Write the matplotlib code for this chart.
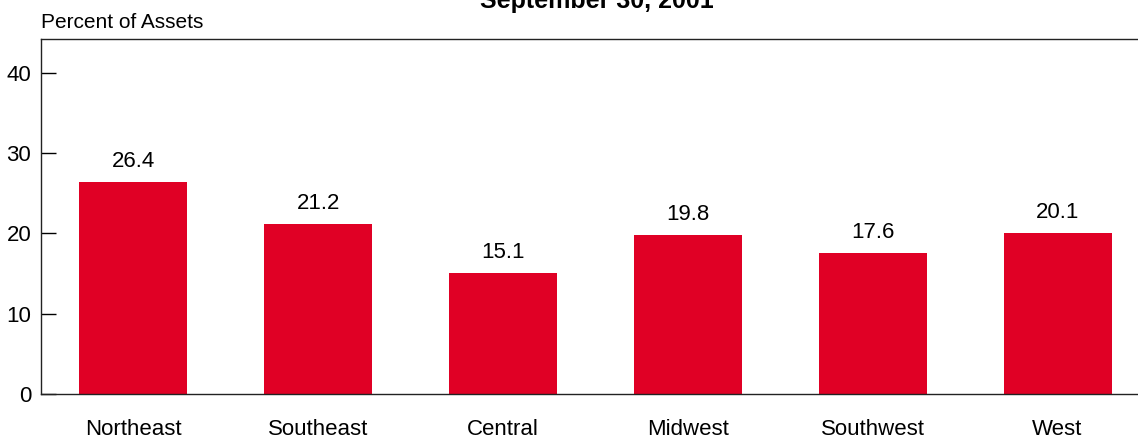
import matplotlib.pyplot as plt

# region shares, percent of assets
regions = ['Northeast', 'Southeast', 'Central', 'Midwest', 'Southwest', 'West']
shares = [26.4, 21.2, 15.1, 19.8, 17.6, 20.1]
yticks = [0, 10, 20, 30, 40]

plt.rcParams['font.family'] = ['Liberation Sans', 'DejaVu Sans']

fig = plt.figure(figsize=(11.38, 4.4), dpi=100)
W, H = 1138, 440
# axes runs past the right edge of the figure
ax = fig.add_axes([41 / W, 46 / H, 1109 / W, 355 / H])

x = range(len(regions))
bars = ax.bar(x, shares, width=0.585, color='#e00025')

for b, v in zip(bars, shares):
    ax.annotate(f'{v:.1f}', (b.get_x() + b.get_width() / 2, v),
                xytext=(0, 7), textcoords='offset points',
                ha='center', va='bottom', fontsize=16)

ax.set_xlim(-0.5, 5.5)
ax.set_ylim(0, 44.2)
ax.set_xticks(list(x))
ax.set_xticklabels(regions, fontsize=16)
ax.set_yticks(yticks)
ax.tick_params(axis='x', length=0, pad=18)
ax.tick_params(axis='y', direction='in', length=11, width=1, labelsize=16, pad=7)

for s in ['left', 'top', 'bottom']:
    ax.spines[s].set_linewidth(1.0)
    ax.spines[s].set_color('#222222')
ax.spines['right'].set_visible(False)

fig.text(41 / W, 1 - 22 / H, 'Percent of Assets', fontsize=15, va='center', ha='left')
fig.text(597 / W, 1 - 8 / H, 'September 30, 2001', fontsize=18, fontweight='bold',
         ha='center', va='baseline')

fig.savefig('out.png', dpi=100)
